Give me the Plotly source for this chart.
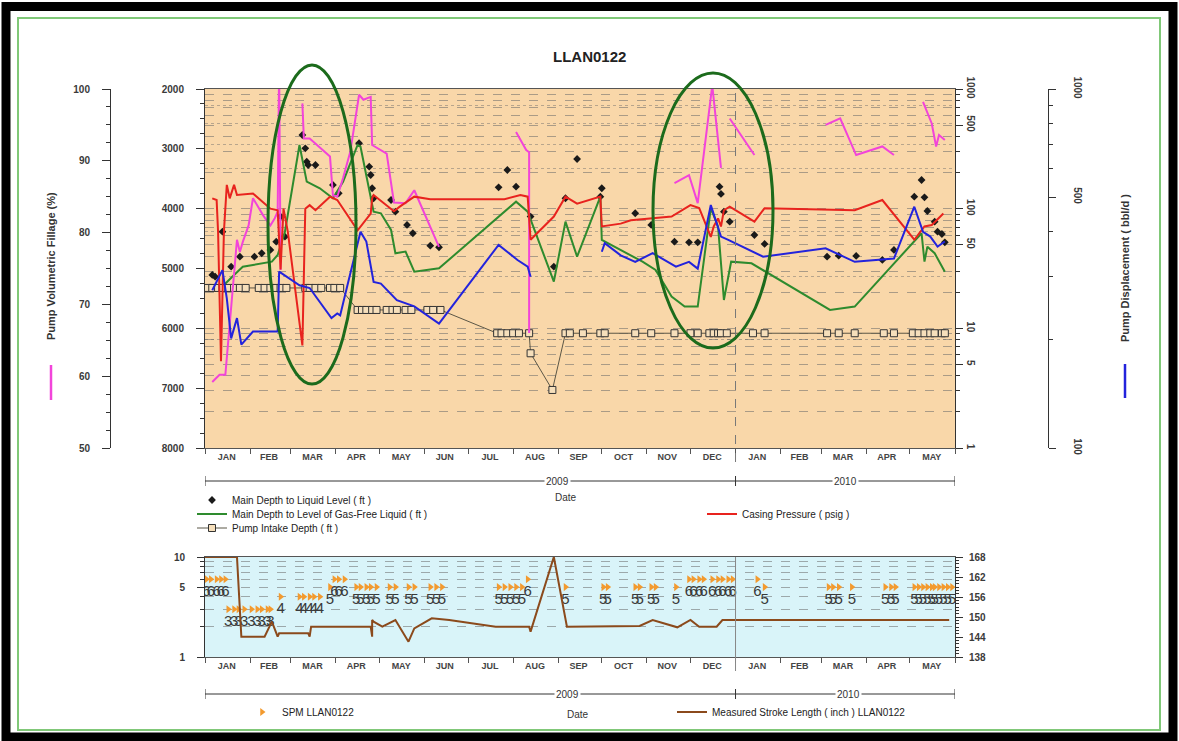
import plotly.graph_objects as go

W, H = 1179, 741

# ------------------------------------------------------------------ data
month_starts = ["2009-01-01", "2009-02-01", "2009-03-01", "2009-04-01", "2009-05-01", "2009-06-01",
                "2009-07-01", "2009-08-01", "2009-09-01", "2009-10-01", "2009-11-01", "2009-12-01",
                "2010-01-01", "2010-02-01", "2010-03-01", "2010-04-01", "2010-05-01", "2010-06-01"]
month_mid = ["2009-01-16", "2009-02-14", "2009-03-16", "2009-04-15", "2009-05-16", "2009-06-15",
             "2009-07-16", "2009-08-16", "2009-09-15", "2009-10-16", "2009-11-15", "2009-12-16",
             "2010-01-16", "2010-02-14", "2010-03-16", "2010-04-15", "2010-05-16"]
month_labels = ["JAN", "FEB", "MAR", "APR", "MAY", "JUN", "JUL", "AUG", "SEP", "OCT", "NOV", "DEC",
                "JAN", "FEB", "MAR", "APR", "MAY"]

# Pump Volumetric Fillage (%)
fillage_dates = ["2009-01-06", "2009-01-11", "2009-01-15", "2009-01-23", "2009-01-25", "2009-01-27",
                 "2009-01-31", "2009-02-03", "2009-02-10", "2009-02-15", "2009-02-18", "2009-02-20",
                 "2009-02-21", "2009-02-22", None,
                 "2009-03-09", "2009-03-10", "2009-03-14", "2009-03-18", "2009-03-28", "2009-03-30",
                 "2009-04-02", "2009-04-06", "2009-04-11", "2009-04-17", "2009-04-20", "2009-04-25",
                 "2009-04-26", "2009-05-06", "2009-05-11", "2009-05-19", "2009-05-25", "2009-06-11", None,
                 "2009-08-03", "2009-08-10", "2009-08-12", "2009-08-12", None,
                 "2009-11-20", "2009-11-30", "2009-12-06", "2009-12-16", "2009-12-22", None,
                 "2009-12-28", "2010-01-14", None,
                 "2010-03-04", "2010-03-14", "2010-03-25", "2010-04-12", "2010-04-20", None,
                 "2010-05-10", "2010-05-16", "2010-05-19", "2010-05-21", "2010-05-25"]
fillage_pct = [59.2, 60.2, 60.2, 79.0, 77.3, 78.7, 81.0, 84.8, 82.4, 81.0, 82.0, 82.9, 103, 74.8, None,
               98.0, 93.1, 93.1, 92.4, 90.6, 85.2, 85.0, 87.6, 91.3, 99.2, 98.5, 98.9, 92.2, 91.0, 84.2,
               84.1, 85.9, 78.0, None,
               94.0, 91.5, 91.2, 66.0, None,
               86.9, 88.0, 84.1, 100.5, 89.0, None,
               95.9, 90.8, None,
               95.0, 95.9, 90.8, 92.0, 90.8, None,
               98.2, 95.2, 92.0, 93.6, 92.9]

# Pump Displacement (bbl/d)
disp_dates = ["2009-01-06", "2009-01-13", "2009-01-16", "2009-01-19", "2009-01-23", "2009-01-26",
              "2009-02-03", "2009-02-16", "2009-02-20", "2009-02-21", "2009-03-07", "2009-03-14",
              "2009-03-29", "2009-04-02", "2009-04-04", "2009-04-09", "2009-04-18", "2009-04-22",
              "2009-04-27", "2009-05-02", "2009-05-13", "2009-05-25", "2009-06-11", "2009-07-22",
              "2009-08-04", "2009-08-11", "2009-08-13", None,
              "2009-10-01", "2009-10-03", "2009-10-14", "2009-10-24", "2009-11-05", "2009-11-21",
              "2009-11-30", "2009-12-06", "2009-12-15", "2009-12-22", "2009-12-27", "2010-01-20",
              "2010-03-04", "2010-03-24", "2010-04-20", "2010-05-04", "2010-05-10", "2010-05-15",
              "2010-05-20", "2010-05-25"]
disp_bbl = [275, 313, 261, 202, 230, 194, 211, 211, 211, 310, 284, 279, 230, 237, 234, 284, 400, 376,
            290, 287, 258, 248, 222, 368, 334, 320, 300, None,
            352, 372, 344, 330, 349, 320, 330, 316, 475, 388, 380, 341, 360, 330, 337, 470, 400, 388,
            364, 376]

# Main Depth to Level of Gas-Free Liquid (ft)
gasfree_dates = ["2009-01-04", "2009-01-14", "2009-01-21", "2009-01-27", "2009-02-03", "2009-02-16",
                 "2009-02-20", "2009-02-25", "2009-03-07", "2009-03-12", "2009-03-21", "2009-03-30",
                 "2009-04-06", "2009-04-16", "2009-04-18", "2009-04-27", "2009-05-02", "2009-05-09",
                 "2009-05-12", "2009-05-19", "2009-05-25", "2009-06-11", "2009-08-03", "2009-08-11",
                 "2009-08-29", "2009-09-06", "2009-09-14", "2009-09-30", "2009-10-01", "2009-10-29",
                 "2009-11-07", "2009-11-18", "2009-11-27", "2009-12-06", "2009-12-15", "2009-12-20",
                 "2009-12-24", "2009-12-29", "2010-01-12", "2010-03-07", "2010-03-24", "2010-04-20",
                 "2010-05-09", "2010-05-11", "2010-05-13", "2010-05-18", "2010-05-25"]
gasfree_ft = [5303, 5275, 5108, 4970, 4941, 4886, 4774, 4385, 2936, 3549, 3659, 3826, 3549, 2936, 2964,
              4050, 4077, 4356, 4745, 4718, 5053, 4997, 3883, 4050, 5220, 4217, 4802, 3800, 4523, 4886,
              5025, 5470, 5637, 5637, 3993, 4300, 5526, 4886, 4913, 5693, 5637, 4913, 4411, 4886, 4635,
              4745, 5053]

# Casing Pressure (psig)
casing_dates = ["2009-01-06", "2009-01-09", "2009-01-10", "2009-01-12", "2009-01-14", "2009-01-16",
                "2009-01-18", "2009-01-21", "2009-01-23", "2009-02-03", "2009-02-15", "2009-02-20",
                "2009-02-22", "2009-02-24", "2009-02-27", "2009-03-09", "2009-03-11", "2009-03-14",
                "2009-03-18", "2009-03-28", "2009-04-02", "2009-04-09", "2009-04-16", "2009-04-25",
                "2009-04-26", "2009-04-27", "2009-05-11", "2009-05-15", "2009-05-25", "2009-06-05",
                "2009-07-26", "2009-08-06", "2009-08-11", "2009-08-13", "2009-08-29", "2009-09-06",
                "2009-09-14", "2009-09-30", "2009-10-01", "2009-10-14", "2009-10-21", "2009-11-18",
                "2009-12-01", "2009-12-07", "2009-12-15", "2009-12-17", "2009-12-20", "2009-12-22",
                "2009-12-24", "2009-12-28", "2010-01-14", "2010-01-21", "2010-03-24", "2010-04-12",
                "2010-05-04", "2010-05-11", "2010-05-16", "2010-05-24"]
casing_psig = [122, 118, 64, 5.3, 64, 158, 122, 158, 130, 134, 100, 97, 31, 100, 64, 7.2, 100, 107, 97,
               126, 118, 89, 66, 91, 122, 130, 95, 104, 126, 120, 120, 130, 126, 55, 86, 126, 110, 126,
               71, 75, 80, 86, 107, 101, 58, 71, 83, 71, 97, 104, 78, 101, 97, 118, 55, 71, 73, 91]

# Main Depth to Liquid Level (ft)
liquid_dates = ["2009-01-06", "2009-01-08", "2009-01-13", "2009-01-19", "2009-01-25", "2009-02-04",
                "2009-02-09", "2009-02-15", "2009-02-19", "2009-02-22", "2009-02-25", "2009-03-09",
                "2009-03-11", "2009-03-12", "2009-03-13", "2009-03-18", "2009-03-30", "2009-04-03",
                "2009-04-17", "2009-04-24", "2009-04-25", "2009-04-26", "2009-04-27", "2009-05-09",
                "2009-05-12", "2009-05-20", "2009-05-24", "2009-06-05", "2009-06-11", "2009-07-22",
                "2009-07-28", "2009-08-03", "2009-08-13", "2009-08-29", "2009-09-06", "2009-09-14",
                "2009-09-30", "2009-10-01", "2009-10-24", "2009-11-04", "2009-11-20", "2009-11-30",
                "2009-12-06", "2009-12-21", "2009-12-22", "2009-12-24", "2009-12-28", "2010-01-14",
                "2010-01-21", "2010-03-05", "2010-03-13", "2010-03-25", "2010-04-12", "2010-04-20",
                "2010-05-04", "2010-05-09", "2010-05-11", "2010-05-13", "2010-05-18", "2010-05-20",
                "2010-05-23", "2010-05-25"]
liquid_ft = [5108, 5136, 4385, 4970, 4802, 4802, 4745, 4690, 4552, 4133, 4468, 2769, 2991, 3214, 3270,
             3270, 3604, 3743, 2907, 3298, 3437, 3659, 3826, 3855, 4050, 4272, 4411, 4618, 4645, 3643,
             3354, 3632, 4133, 4970, 3826, 3170, 3800, 3659, 4077, 4272, 4552, 4562, 4562, 3632, 3754,
             4050, 4217, 4440, 4590, 4802, 4785, 4790, 4857, 4690, 3800, 3521, 3810, 4039, 4217, 4385,
             4423, 4562]

# Pump Intake Depth (ft)
intake_dates = ["2009-01-03", "2009-01-06", "2009-01-10", "2009-01-13", "2009-01-17", "2009-01-21",
                "2009-01-25", "2009-01-29", "2009-02-07", "2009-02-11", "2009-02-15", "2009-02-19",
                "2009-02-22", "2009-02-26", "2009-03-11", "2009-03-14", "2009-03-18", "2009-03-22",
                "2009-03-28", "2009-03-31", "2009-04-04",
                "2009-04-16", "2009-04-19", "2009-04-22", "2009-04-26", "2009-04-29", "2009-05-06",
                "2009-05-10", "2009-05-13", "2009-05-19", "2009-05-23", "2009-06-03", "2009-06-07",
                "2009-06-12",
                "2009-07-21", "2009-07-24", "2009-07-28", "2009-08-01", "2009-08-05", "2009-08-12",
                "2009-08-13", "2009-08-28",
                "2009-09-06", "2009-09-09", "2009-09-18", "2009-09-30", "2009-10-03", "2009-10-24",
                "2009-11-04", "2009-11-20", "2009-12-01", "2009-12-06", "2009-12-14", "2009-12-17",
                "2009-12-20", "2009-12-22", "2009-12-26", "2010-01-13", "2010-01-21", "2010-03-05",
                "2010-03-13", "2010-03-24", "2010-04-13", "2010-04-20", "2010-05-03", "2010-05-07",
                "2010-05-11", "2010-05-15", "2010-05-18", "2010-05-23", "2010-05-25"]
intake_ft = [5325] * 21 + [5693] * 13 + [6082] * 6 + [6417, 7030] + [6082] * 29

# SPM LLAN0122
spm_dates = ["2009-01-02", "2009-01-05", "2009-01-09", "2009-01-12", "2009-01-15",
             "2009-01-17", "2009-01-21", "2009-01-24", "2009-01-28",
             "2009-02-02", "2009-02-06", "2009-02-09", "2009-02-13", "2009-02-15",
             "2009-02-22",
             "2009-03-07", "2009-03-10", "2009-03-14", "2009-03-17", "2009-03-21",
             "2009-03-28", "2009-03-31", "2009-04-03", "2009-04-07",
             "2009-04-15", "2009-04-18", "2009-04-22", "2009-04-25", "2009-04-29",
             "2009-05-08", "2009-05-12", "2009-05-21", "2009-05-25",
             "2009-06-05", "2009-06-09", "2009-06-13",
             "2009-07-22", "2009-07-26", "2009-07-30", "2009-08-03", "2009-08-07", "2009-08-11",
             "2009-09-06", "2009-10-02", "2009-10-05", "2009-10-24", "2009-10-27",
             "2009-11-04", "2009-11-07", "2009-11-21",
             "2009-11-30", "2009-12-03", "2009-12-07", "2009-12-10",
             "2009-12-16", "2009-12-20", "2009-12-23", "2009-12-27", "2009-12-30",
             "2010-01-16", "2010-01-21",
             "2010-03-06", "2010-03-09", "2010-03-13", "2010-03-22",
             "2010-04-14", "2010-04-18", "2010-04-21",
             "2010-05-04", "2010-05-07", "2010-05-10", "2010-05-13", "2010-05-16",
             "2010-05-18", "2010-05-21", "2010-05-24", "2010-05-27", "2010-05-30"]
spm_values = [6, 6, 6, 6, 6,
              3, 3, 3, 3,
              3, 3, 3, 3, 3,
              4,
              4, 4, 4, 4, 4,
              5, 6, 6, 6,
              5, 5, 5, 5, 5,
              5, 5, 5, 5,
              5, 5, 5,
              5, 5, 5, 5, 5, 6,
              5, 5, 5, 5, 5,
              5, 5, 5,
              6, 6, 6, 6,
              6, 6, 6, 6, 6,
              6, 5,
              5, 5, 5, 5,
              5, 5, 5,
              5, 5, 5, 5, 5, 5, 5, 5, 5, 5]

# Measured Stroke Length (inch) LLAN0122
stroke_dates = ["2009-01-01", "2009-01-23", "2009-01-26", "2009-02-11", "2009-02-16", "2009-02-20",
                "2009-02-21", "2009-03-13", "2009-03-14", "2009-03-15", "2009-04-25", "2009-04-26",
                "2009-04-26", "2009-04-27", "2009-05-03", "2009-05-12", "2009-05-21", "2009-05-25",
                "2009-06-06", "2009-06-18", "2009-07-20", "2009-08-12", "2009-08-13", "2009-08-29",
                "2009-09-07", "2009-10-27", "2009-11-05", "2009-11-22", "2009-12-01", "2009-12-07",
                "2009-12-19", "2009-12-23", "2010-05-28"]
stroke_in = [168, 168, 144.1, 144.1, 148.6, 144.1, 145.1, 145.1, 144.1, 147.1, 147.1, 144.1, 149.1,
             148.6, 147.1, 149.1, 142.6, 146.6, 149.6, 149.1, 147.1, 147.1, 145.6, 168, 147.1, 147.3,
             149.1, 146.9, 149.1, 147.1, 147.1, 149.1, 149.1]

depth_ticks = [2000, 3000, 4000, 5000, 6000, 7000, 8000]
fill_ticks = [50, 60, 70, 80, 90, 100]
press_ticks = [1, 5, 10, 50, 100, 500, 1000]
disp_ticks = [100, 500, 1000]
spm_ticks = [1, 5, 10]
stroke_ticks = [138, 144, 150, 156, 162, 168]

# ------------------------------------------------------------------ helpers (layout only)
def px_x(p):
    return p / W


def px_y(p):
    return 1 - p / H


FONT = "Liberation Sans, Arial, sans-serif"
X_DOM = [px_x(205), px_x(955)]
TOP_DOM = [px_y(448), px_y(89)]
BOT_DOM = [px_y(657), px_y(557)]
TICKFONT = dict(family=FONT, size=10, color="#3a3a3a", weight="bold")
GRID = "rgba(105,105,105,0.55)"
LEGFONT = dict(family=FONT, size=10, color="#222")

log_minor_press = [v * m for m in (1, 10, 100) for v in (2, 3, 4, 6, 7, 8, 9)]
log_minor_disp = [200, 300, 400, 600, 700, 800, 900]
log_minor_spm = [2, 3, 4, 6, 7, 8, 9]

fig = go.Figure()

# upper panel traces
fig.add_trace(go.Scatter(x=liquid_dates, y=liquid_ft, mode="markers", name="Main Depth to Liquid Level ( ft )",
                         marker=dict(symbol="diamond", size=6, color="#1a1a1a"),
                         xaxis="x", yaxis="y", legend="legend"))
fig.add_trace(go.Scatter(x=gasfree_dates, y=gasfree_ft, mode="lines",
                         name="Main Depth to Level of Gas-Free Liquid ( ft )",
                         line=dict(color="#2e8b2e", width=2), xaxis="x", yaxis="y", legend="legend5"))
fig.add_trace(go.Scatter(x=intake_dates, y=intake_ft, mode="lines+markers", name="Pump Intake Depth ( ft )",
                         line=dict(color="#5b5646", width=1),
                         marker=dict(symbol="square", size=7, color="#f6dfbb",
                                     line=dict(color="#333", width=1)),
                         xaxis="x", yaxis="y", legend="legend6"))
fig.add_trace(go.Scatter(x=casing_dates, y=casing_psig, mode="lines", name="Casing Pressure ( psig )",
                         line=dict(color="#e8231e", width=2), xaxis="x", yaxis="y3", legend="legend2"))
fig.add_trace(go.Scatter(x=disp_dates, y=disp_bbl, mode="lines", name="Pump Displacement ( bbl/d )",
                         line=dict(color="#2323dc", width=2), xaxis="x", yaxis="y4", showlegend=False))
fig.add_trace(go.Scatter(x=fillage_dates, y=fillage_pct, mode="lines", name="Pump Volumetric Fillage (%)",
                         line=dict(color="#f244da", width=2), xaxis="x", yaxis="y2", showlegend=False))

# lower panel traces
fig.add_trace(go.Scatter(x=stroke_dates, y=stroke_in, mode="lines",
                         name="Measured Stroke Length ( inch ) LLAN0122",
                         line=dict(color="#8b4a1c", width=2), xaxis="x2", yaxis="y6", legend="legend4"))
fig.add_trace(go.Scatter(x=spm_dates, y=spm_values, mode="markers+text", name="SPM LLAN0122",
                         text=[str(v) for v in spm_values], textposition="bottom center",
                         textfont=dict(family="Liberation Sans Narrow, Liberation Sans, Arial", size=15,
                                       color="#3a3a3a"),
                         marker=dict(symbol="triangle-right", size=7, color="#f39a2e"),
                         xaxis="x2", yaxis="y5", legend="legend3"))


def xaxis_cfg(anchor):
    return dict(type="date", domain=X_DOM, anchor=anchor, range=["2009-01-01", "2010-06-01"],
                tickmode="array", tickvals=month_mid, ticktext=month_labels, ticks="",
                tickfont=dict(family=FONT, size=9, color="#444", weight="bold"), showgrid=False,
                zeroline=False, showline=True, mirror=True, linecolor="#555", linewidth=1,
                automargin=False,
                minor=dict(tickmode="array", tickvals=month_starts, ticks="outside", ticklen=5,
                           tickcolor="#555", showgrid=False))


def legend_cfg(xp, yp):
    return dict(x=px_x(xp), y=px_y(yp), xanchor="left", yanchor="middle", bgcolor="rgba(0,0,0,0)",
                font=LEGFONT, borderwidth=0)


fig.update_layout(
    width=W, height=H, margin=dict(l=0, r=0, t=0, b=0, autoexpand=False),
    paper_bgcolor="white", plot_bgcolor="rgba(0,0,0,0)",
    font=dict(family=FONT, size=10, color="#333"),
    xaxis=xaxis_cfg("y"),
    xaxis2=xaxis_cfg("y5"),
    yaxis=dict(domain=TOP_DOM, range=[8000, 2000], anchor="x", side="left", tickmode="array",
               tickvals=depth_ticks, ticks="outside", ticklen=8, tickcolor="#333", tickfont=TICKFONT,
               ticklabelstandoff=10, showline=True, linecolor="#333", showgrid=False, zeroline=False,
               automargin=False,
               minor=dict(tickmode="array", tickvals=[v for v in range(2250, 8000, 250) if v % 1000],
                          ticks="outside", ticklen=4, tickcolor="#333")),
    yaxis2=dict(domain=TOP_DOM, range=[50, 100], overlaying="y", anchor="free", position=px_x(110),
                side="left", tickmode="array", tickvals=fill_ticks, ticks="outside", ticklen=8,
                tickcolor="#333", tickfont=TICKFONT, ticklabelstandoff=10, showline=True,
                linecolor="#333", showgrid=False, zeroline=False, automargin=False,
                minor=dict(tickmode="array", tickvals=[52.5 + 2.5 * i for i in range(19) if (52.5 + 2.5 * i) % 10],
                           ticks="outside", ticklen=4, tickcolor="#333")),
    yaxis3=dict(domain=TOP_DOM, type="log", range=[0, 3], overlaying="y", anchor="x", side="right",
                tickmode="array", tickvals=press_ticks, ticktext=[str(v) for v in press_ticks],
                tickangle=90, ticks="outside", ticklen=7, tickcolor="#333", tickfont=TICKFONT,
                showline=True, linecolor="#333", showgrid=True, gridcolor=GRID, griddash="dash",
                gridwidth=1, zeroline=False, automargin=False,
                minor=dict(tickmode="array", tickvals=log_minor_press, ticks="outside", ticklen=4,
                           tickcolor="#333", showgrid=True, gridcolor=GRID, griddash="dash")),
    yaxis4=dict(domain=TOP_DOM, type="log", range=[2, 3], overlaying="y", anchor="free",
                position=px_x(1048), side="right", tickmode="array", tickvals=disp_ticks,
                ticktext=[str(v) for v in disp_ticks], tickangle=90, ticks="outside", ticklen=7,
                tickcolor="#333", tickfont=TICKFONT, ticklabelstandoff=14, showline=True,
                linecolor="#333", showgrid=False, zeroline=False, automargin=False,
                minor=dict(tickmode="array", tickvals=log_minor_disp, ticks="outside", ticklen=4,
                           tickcolor="#333", showgrid=True, gridcolor="rgba(105,105,105,0.45)",
                           griddash="dot")),
    yaxis5=dict(domain=BOT_DOM, type="log", range=[0, 1], anchor="x2", side="left", tickmode="array",
                tickvals=spm_ticks, ticktext=[str(v) for v in spm_ticks], ticks="outside", ticklen=7,
                tickcolor="#333", tickfont=TICKFONT, ticklabelstandoff=10, showline=True,
                linecolor="#333", showgrid=True, gridcolor=GRID, griddash="dash", zeroline=False,
                automargin=False,
                minor=dict(tickmode="array", tickvals=log_minor_spm, ticks="outside", ticklen=4,
                           tickcolor="#333", showgrid=True, gridcolor=GRID, griddash="dash")),
    yaxis6=dict(domain=BOT_DOM, range=[138, 168], overlaying="y5", anchor="x2", side="right",
                tickmode="array", tickvals=stroke_ticks, ticks="outside", ticklen=7, tickcolor="#333",
                tickfont=TICKFONT, ticklabelstandoff=4, showline=True, linecolor="#333",
                showgrid=False, zeroline=False, automargin=False,
                minor=dict(tickmode="array", tickvals=[v for v in range(139, 168) if (v - 138) % 6],
                           ticks="outside", ticklen=3, tickcolor="#333")),
    legend=legend_cfg(192, 500),
    legend5=legend_cfg(192, 514),
    legend6=legend_cfg(192, 528),
    legend2=legend_cfg(702, 514),
    legend3=legend_cfg(242, 712),
    legend4=legend_cfg(672, 712),
    showlegend=True,
)

shapes = [
    # panel backgrounds
    dict(type="rect", xref="x domain", yref="y domain", x0=0, x1=1, y0=0, y1=1,
         fillcolor="#f9d7a9", line=dict(width=0), layer="below"),
    dict(type="rect", xref="x2 domain", yref="y5 domain", x0=0, x1=1, y0=0, y1=1,
         fillcolor="#d9f4f9", line=dict(width=0), layer="below"),
    # year boundary lines
    dict(type="line", xref="x", yref="paper", x0="2010-01-01", x1="2010-01-01", y0=px_y(462), y1=TOP_DOM[1],
         line=dict(color="#777", width=1, dash="dash")),
    dict(type="line", xref="x2", yref="paper", x0="2010-01-01", x1="2010-01-01", y0=px_y(671), y1=BOT_DOM[1],
         line=dict(color="#888", width=1)),
    # frames
    dict(type="rect", xref="paper", yref="paper", x0=px_x(6), x1=px_x(1173), y0=px_y(6.5), y1=px_y(737),
         line=dict(color="black", width=9)),
    dict(type="rect", xref="paper", yref="paper", x0=px_x(18), x1=px_x(1160), y0=px_y(18), y1=px_y(730),
         line=dict(color="#80c878", width=2)),
    # highlight ellipses
    dict(type="circle", xref="paper", yref="paper", x0=px_x(268), x1=px_x(356), y0=px_y(65), y1=px_y(384),
         line=dict(color="#1c6b1c", width=3)),
    dict(type="circle", xref="paper", yref="paper", x0=px_x(653), x1=px_x(773), y0=px_y(73), y1=px_y(348),
         line=dict(color="#1c6b1c", width=3)),
    # axis-title colour keys
    dict(type="line", xref="paper", yref="paper", x0=px_x(51), x1=px_x(51), y0=px_y(365), y1=px_y(400),
         line=dict(color="#f244da", width=2.5)),
    dict(type="line", xref="paper", yref="paper", x0=px_x(1125), x1=px_x(1125), y0=px_y(364), y1=px_y(398),
         line=dict(color="#2323dc", width=2.5)),
]
# year bars
for ybar, xr in ((481, "x"), (694, "x2")):
    shapes.append(dict(type="line", xref=xr, yref="paper", x0="2009-01-01", x1="2010-06-01",
                       y0=px_y(ybar), y1=px_y(ybar), line=dict(color="#333", width=1)))
    for d in ("2009-01-01", "2010-01-01", "2010-06-01"):
        shapes.append(dict(type="line", xref=xr, yref="paper", x0=d, x1=d, y0=px_y(ybar - 5),
                           y1=px_y(ybar + 5), line=dict(color="#333", width=1)))
fig.update_layout(shapes=shapes)

ann_font = dict(family=FONT, size=10, color="#333")


def ann(text, xp, yp, font, **kw):
    return dict(text=text, x=px_x(xp), y=px_y(yp), xref="paper", yref="paper", showarrow=False,
                xanchor="center", yanchor="middle", font=font, **kw)


annotations = [
    ann("<b>LLAN0122</b>", 589, 57, dict(family=FONT, size=15, color="#222")),
    ann("<b>Pump Volumetric Fillage (%)</b>", 51, 266, dict(family=FONT, size=11, color="#333"), textangle=-90),
    ann("<b>Pump Displacement ( bbl/d )</b>", 1125, 268, dict(family=FONT, size=11, color="#333"), textangle=-90),
    ann("2009", 557, 481, ann_font, bgcolor="white"),
    ann("2010", 845, 481, ann_font, bgcolor="white"),
    ann("Date", 566, 497, ann_font),
    ann("2009", 567, 694, ann_font, bgcolor="white"),
    ann("2010", 848, 694, ann_font, bgcolor="white"),
    ann("Date", 578, 714, ann_font),
]
fig.update_layout(annotations=annotations)

fig.write_html("out.html", config={"displayModeBar": False},
               post_script="document.body.style.margin='0px';")
